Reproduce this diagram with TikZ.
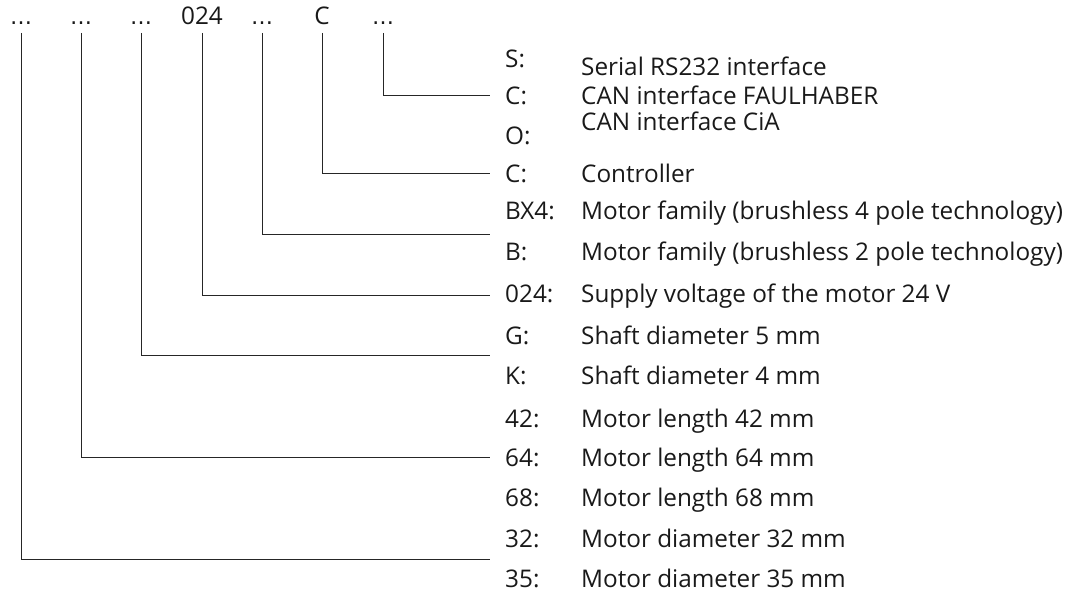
\documentclass[tikz,border=0pt]{standalone}
\usepackage{fontspec}
\setmainfont{Open Sans}
\newfontfamily\dotsfont{DejaVu Sans}
\begin{document}
\begin{tikzpicture}[x=1pt,y=-1pt,
  txt/.style={inner sep=0pt, text=black!90, font=\fontsize{24.3}{28}\selectfont},
  lab/.style={txt, anchor=base west},
  toplab/.style={txt, anchor=base},
  dotlab/.style={inner sep=0pt, anchor=base, text=black!90, font=\dotsfont\fontsize{22}{26}\selectfont},
  conn/.style={draw=black!85, line width=0.9pt}]
\useasboundingbox (0,0) rectangle (1069,594);
% top code
\node[dotlab] (t1) at (21,25) {…};
\node[dotlab] (t2) at (81,25) {…};
\node[dotlab] (t3) at (141,25) {…};
\node[toplab] (t4) at (202,25) {024};
\node[dotlab] (t5) at (262,25) {…};
\node[toplab] (t6) at (322,25) {C};
\node[dotlab] (t7) at (383,25) {…};
% keys
\node[lab] (k1) at (505,67.5) {S:};
\node[lab] (d1) at (581,75.5) {Serial RS232 interface};
\node[lab] (k2) at (505,104.5) {C:};
\node[lab] (d2) at (581,104.5) {CAN interface FAULHABER};
\node[lab] (k3) at (505,144.5) {O:};
\node[lab] (d3) at (581,130.5) {CAN interface CiA};
\node[lab] (k4) at (505,182) {C:};
\node[lab] (d4) at (581,182) {Controller};
\node[lab] (k5) at (505,219.5) {BX4:};
\node[lab] (d5) at (581,219.5) {Motor family (brushless 4 pole technology)};
\node[lab] (k6) at (505,260.5) {B:};
\node[lab] (d6) at (581,260.5) {Motor family (brushless 2 pole technology)};
\node[lab] (k7) at (505,302.5) {024:};
\node[lab] (d7) at (581,302.5) {Supply voltage of the motor 24 V};
\node[lab] (k8) at (505,344.5) {G:};
\node[lab] (d8) at (581,344.5) {Shaft diameter 5 mm};
\node[lab] (k9) at (505,384.5) {K:};
\node[lab] (d9) at (581,384.5) {Shaft diameter 4 mm};
\node[lab] (k10) at (505,427.5) {42:};
\node[lab] (d10) at (581,427.5) {Motor length 42 mm};
\node[lab] (k11) at (505,466.5) {64:};
\node[lab] (d11) at (581,466.5) {Motor length 64 mm};
\node[lab] (k12) at (505,506.5) {68:};
\node[lab] (d12) at (581,506.5) {Motor length 68 mm};
\node[lab] (k13) at (505,547.5) {32:};
\node[lab] (d13) at (581,547.5) {Motor diameter 32 mm};
\node[lab] (k14) at (505,587.5) {35:};
\node[lab] (d14) at (581,587.5) {Motor diameter 35 mm};
% line ends
\coordinate (e7) at (490,95);
\coordinate (e6) at (490,173);
\coordinate (e5) at (490,234);
\coordinate (e4) at (490,295);
\coordinate (e3) at (490,355);
\coordinate (e2) at (490,457);
\coordinate (e1) at (490,559);
% connectors
\draw[conn] ([yshift=-8pt]t7.base) |- (e7);
\draw[conn] ([yshift=-8pt]t6.base) |- (e6);
\draw[conn] ([yshift=-8pt]t5.base) |- (e5);
\draw[conn] ([yshift=-8pt]t4.base) |- (e4);
\draw[conn] ([yshift=-8pt]t3.base) |- (e3);
\draw[conn] ([yshift=-8pt]t2.base) |- (e2);
\draw[conn] ([yshift=-8pt]t1.base) |- (e1);
\end{tikzpicture}
\end{document}
